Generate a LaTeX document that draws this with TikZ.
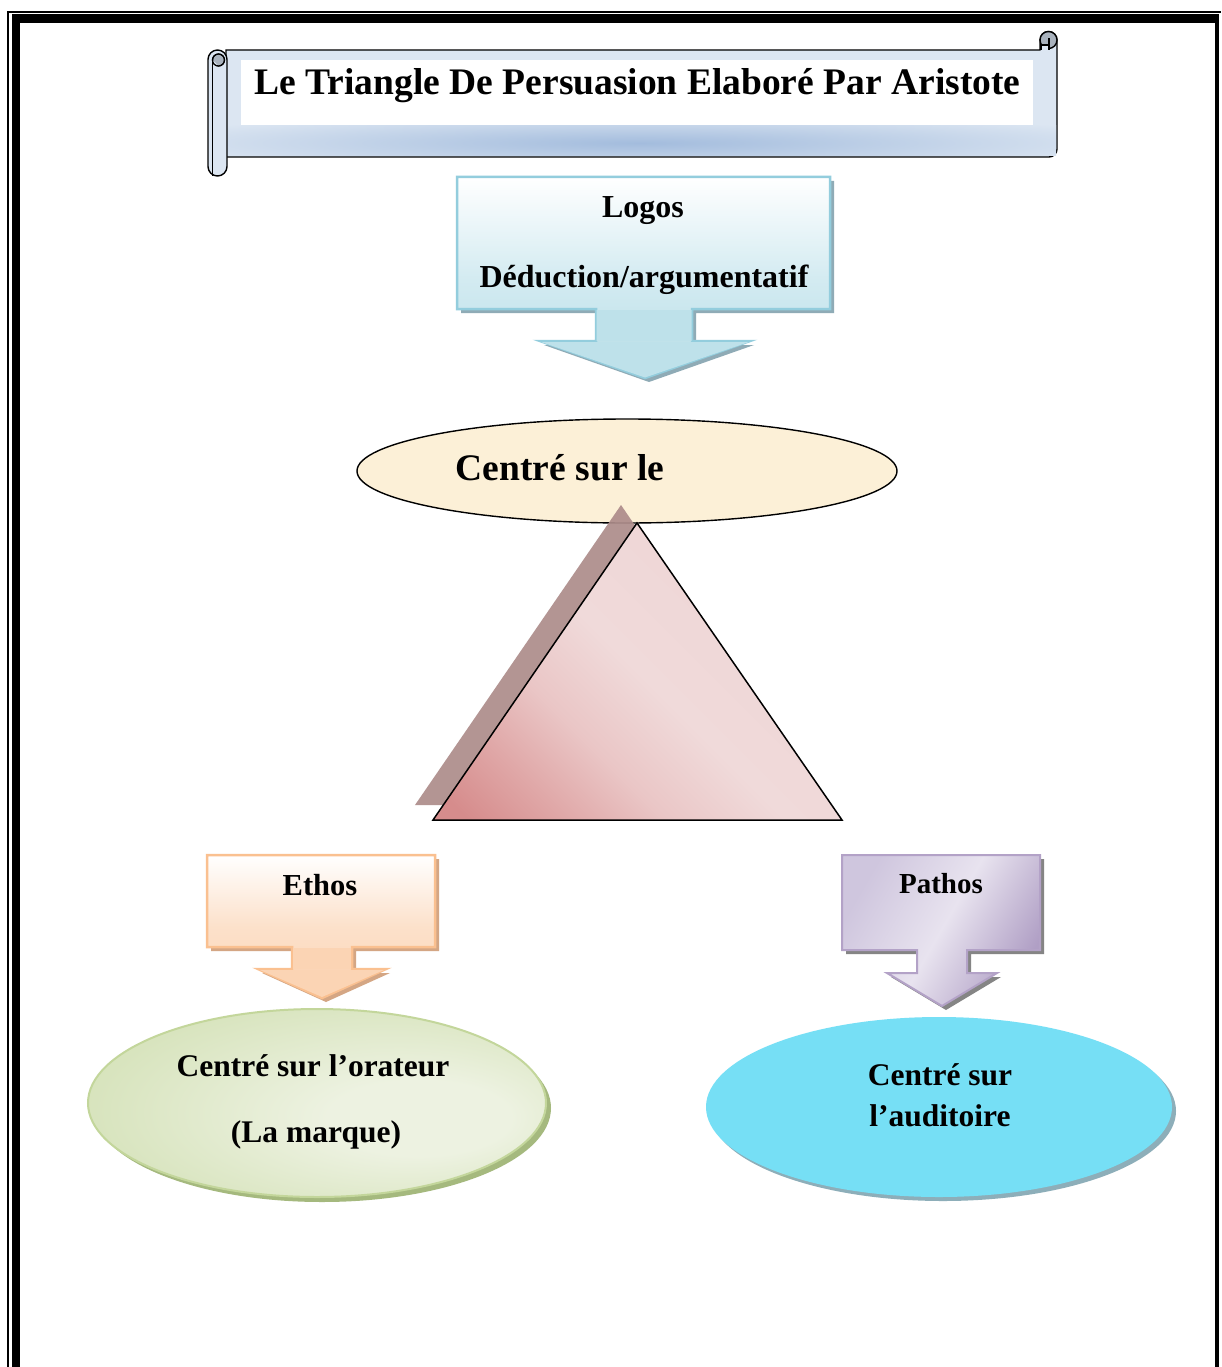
\documentclass[tikz,border=0pt]{standalone}
\usepackage{fontspec}
\setmainfont{Liberation Serif}
\usetikzlibrary{shadings}
\definecolor{scrollfill}{HTML}{DCE6F2}
\definecolor{scrollband}{HTML}{A3BCDD}
\definecolor{curlgray}{HTML}{A9B2BD}
\definecolor{logosborder}{HTML}{93CDDD}
\definecolor{logosbottom}{HTML}{B7DEE8}
\definecolor{logosarrow}{HTML}{BEE1EA}
\definecolor{logosshadow}{HTML}{8FABB6}
\definecolor{ethosborder}{HTML}{FAC090}
\definecolor{ethosbottom}{HTML}{FBD4B4}
\definecolor{ethosshadow}{HTML}{D4A684}
\definecolor{pathosborder}{HTML}{B3A2C7}
\definecolor{pathosA}{HTML}{CFC6DE}
\definecolor{pathosB}{HTML}{E8E3EF}
\definecolor{pathosC}{HTML}{B09FC5}
\definecolor{pathosshadow}{HTML}{858585}
\definecolor{beige}{HTML}{FCF0D7}
\definecolor{trishadow}{HTML}{AD8C8A}
\definecolor{triA}{HTML}{D68C8C}
\definecolor{triB}{HTML}{E0A8A8}
\definecolor{triC}{HTML}{EAC6C6}
\definecolor{triD}{HTML}{F0DADA}
\definecolor{triE}{HTML}{EFD7D7}
\definecolor{triF}{HTML}{E7C5C5}
\definecolor{greenborder}{HTML}{C3D69B}
\definecolor{greenshadow}{HTML}{A5B97E}
\definecolor{gIn}{HTML}{EDF2E1}
\definecolor{gOut}{HTML}{C3D69B}
\definecolor{cyanfill}{HTML}{76DFF5}
\definecolor{cyanshadow}{HTML}{8DAEB9}
\pgfdeclarehorizontalshading{trishade}{100bp}{color(0bp)=(triA); color(18bp)=(triA); color(28bp)=(triB); color(38bp)=(triC); color(50bp)=(triD); color(64bp)=(triE); color(82bp)=(triF); color(100bp)=(triF)}
\pgfdeclareradialshading{greenglow}{\pgfpoint{14bp}{-5bp}}{color(0bp)=(gIn); color(10bp)=(gIn); color(50bp)=(gOut)}
\begin{document}
\begin{tikzpicture}[x=1pt,y=-1pt,
  txt/.style={inner sep=0pt, anchor=base, text=black},
  ftitle/.style={font=\fontsize{37.5}{44}\selectfont\bfseries},
  fmid/.style={font=\fontsize{32}{38}\selectfont\bfseries},
  fsmall/.style={font=\fontsize{31.5}{37}\selectfont\bfseries},
  outl/.style={line width=1.4pt, draw=black}]
\useasboundingbox (0,0) rectangle (1221,1367);
\fill[white] (0,0) rectangle (1221,1367);
% page border
\draw[line width=1.6pt] (8,1367) -- (8,11.8) -- (1221,11.8);
\draw[line width=8.4pt] (15.9,1367) -- (15.9,18.5) -- (1219,18.5);
\draw[line width=3.5pt] (1217,18.5) -- (1217,1367);
% scroll body
\draw[outl, fill=scrollfill] (226,50) -- (1040,50) -- (1040,40)
  arc[start angle=180, end angle=360, radius=8.5] -- (1057,149)
  arc[start angle=0, end angle=90, radius=8] -- (226,157) -- cycle;
\begin{scope}
  \clip (226,51) rectangle (1056,156);
  \shade[inner color=scrollband, outer color=scrollfill] (640,143) ellipse [x radius=520, y radius=30];
\end{scope}
\fill[white] (241,60) rectangle (1033,125);
% right curl
\draw[outl, fill=curlgray] (1048.5,40) circle (8.5);
\draw[line width=1.1pt, fill=scrollfill] (1041,50) -- (1041,45) -- (1049,45) -- (1049,50);
\draw[line width=1.1pt] (1049,45) -- (1049,38);
% left roll
\draw[outl, fill=scrollfill, rounded corners=9.5pt] (208,50) rectangle (227,176);
\draw[line width=1.2pt, fill=curlgray] (218.5,60) circle (6);
\fill[scrollfill] (212.6,60) arc[start angle=180, end angle=90, radius=6] -- (218.5,66) -- cycle;
\draw[line width=1.2pt] (218.5,60) circle (6);
\draw[line width=1.2pt] (212.5,60) -- (212.5,176);
\node[txt, ftitle] (title) at (637.5,95) {Le Triangle De Persuasion Elaboré Par Aristote};
% Logos callout
\fill[logosshadow, shift={(4,4)}] (457,177) -- (830,177) -- (830,309) -- (692,309) -- (692,341) -- (750,341) -- (645,378) -- (540,341) -- (596,341) -- (596,309) -- (457,309) -- cycle;
\draw[line width=2.5pt, draw=logosborder, top color=white, bottom color=logosbottom, middle color=white!40!logosbottom]
  (457,177) -- (830,177) -- (830,309) -- (692,309) -- (692,341) -- (750,341) -- (645,378) -- (540,341) -- (596,341) -- (596,309) -- (457,309) -- cycle;
\fill[logosarrow] (596.5,310) rectangle (691.5,341) (541,342) -- (749,342) -- (645,377.5) -- cycle;
\node[txt, fmid] (logos) at (643,218) {Logos};
\node[txt, fmid] (deduction) at (644,287) {Déduction/argumentatif};
% central ellipse
\draw[line width=1.4pt, fill=beige] (627,471) ellipse [x radius=270, y radius=52];
\node[txt, ftitle] (centre) at (560,480) {Centré sur le};
% triangle
\fill[trishadow, opacity=0.92] (621,505) -- (415,805) -- (826,805) -- cycle;
\draw[line width=1.5pt, shading=trishade, shading angle=45]
  (637,523) -- (433,820) -- (842,820) -- cycle;
% Ethos callout
\fill[ethosshadow, shift={(4,4)}] (207,855) -- (435,855) -- (435,947) -- (352,947) -- (352,969) -- (386,969) -- (322,998) -- (258,969) -- (292,969) -- (292,947) -- (207,947) -- cycle;
\draw[line width=2.5pt, draw=ethosborder, top color=white, bottom color=ethosbottom, middle color=white!30!ethosbottom]
  (207,855) -- (435,855) -- (435,947) -- (352,947) -- (352,969) -- (386,969) -- (322,998) -- (258,969) -- (292,969) -- (292,947) -- (207,947) -- cycle;
\fill[ethosbottom] (293,948) rectangle (351,969.5) (260,970) -- (384,970) -- (322,997) -- cycle;
\node[txt, font=\fontsize{30.5}{36}\selectfont\bfseries] (ethos) at (320,895) {Ethos};
% Pathos callout
\fill[pathosshadow, shift={(4,4)}] (842,855) -- (1040,855) -- (1040,950) -- (967,950) -- (967,973) -- (997,973) -- (942,1006) -- (887,973) -- (917,973) -- (917,950) -- (842,950) -- cycle;
\draw[line width=2pt, draw=pathosborder, left color=pathosA, right color=pathosC, middle color=pathosB, shading angle=60]
  (842,855) -- (1040,855) -- (1040,950) -- (967,950) -- (967,973) -- (997,973) -- (942,1006) -- (887,973) -- (917,973) -- (917,950) -- (842,950) -- cycle;
\node[txt, font=\fontsize{29}{35}\selectfont\bfseries] (pathos) at (941,893) {Pathos};
% green ellipse
\fill[greenshadow] (322,1108) ellipse [x radius=229, y radius=94];
\draw[line width=2pt, draw=greenborder, shading=greenglow]
  (317,1103) ellipse [x radius=229, y radius=94];
\node[txt, fsmall] (orateur) at (313,1076) {Centré sur l’orateur};
\node[txt, fsmall] (marque) at (316,1142) {(La marque)};
% cyan ellipse
\fill[cyanshadow] (943,1111) ellipse [x radius=233, y radius=90];
\fill[cyanfill] (939,1107) ellipse [x radius=233, y radius=90];
\node[txt, fsmall] (sur) at (940,1085) {Centré sur};
\node[txt, fsmall] (auditoire) at (940,1126) {l’auditoire};
\end{tikzpicture}
\end{document}
